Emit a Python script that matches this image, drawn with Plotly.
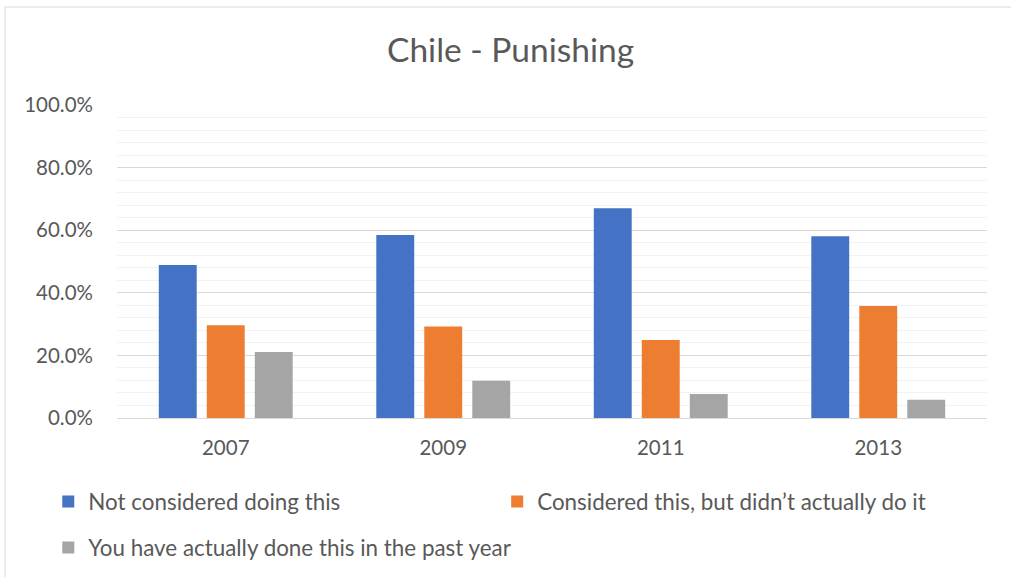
import plotly.graph_objects as go

years = ["2007", "2009", "2011", "2013"]
not_considered = [0.489, 0.585, 0.670, 0.581]
considered_not_done = [0.296, 0.292, 0.249, 0.358]
done_past_year = [0.211, 0.119, 0.077, 0.058]

series_names = [
    "Not considered doing this",
    "Considered this, but didn\u2019t actually do it",
    "You have actually done this in the past year",
]
series_colors = ["#4472C4", "#ED7D31", "#A5A5A5"]
series_values = [not_considered, considered_not_done, done_past_year]
legend_ids = ["legend", "legend2", "legend3"]

FONT = "Lato"
TEXT = "#595959"

fig = go.Figure()
for name, color, vals, lg in zip(series_names, series_colors, series_values, legend_ids):
    fig.add_trace(go.Bar(
        x=years, y=vals, name=name, legend=lg, showlegend=True,
        marker=dict(color=color, line=dict(width=0)),
        hovertemplate="%{x}: %{y:.1%}<extra>" + name + "</extra>",
    ))

legend_common = dict(
    font=dict(family=FONT, size=22.4, color=TEXT),
    bgcolor="rgba(0,0,0,0)", borderwidth=0,
    xanchor="left", yanchor="middle",
    itemclick=False, itemdoubleclick=False, visible=True,
)

fig.update_layout(
    width=1011, height=577,
    margin=dict(l=117, r=24, t=105, b=159, autoexpand=False),
    paper_bgcolor="white", plot_bgcolor="white",
    showlegend=True,
    barmode="group", bargap=0.338, bargroupgap=0.21,
    title=dict(text="Chile - Punishing", x=0.505, xanchor="center",
               y=1 - 50 / 577, yanchor="middle",
               font=dict(family=FONT, size=33.5, color=TEXT)),
    font=dict(family=FONT, color=TEXT),
    legend=dict(x=-0.079, y=-0.268, **legend_common),
    legend2=dict(x=0.437, y=-0.268, **legend_common),
    legend3=dict(x=-0.079, y=-0.415, **legend_common),
    xaxis=dict(
        type="category", showgrid=False, zeroline=False,
        showline=True, linecolor="#D9D9D9", linewidth=1,
        ticks="", ticklabelstandoff=11,
        tickfont=dict(family=FONT, size=20.5, color=TEXT),
    ),
    yaxis=dict(
        range=[0, 1.0], dtick=0.2, tickformat=".1%",
        showgrid=True, gridcolor="#D9D9D9", gridwidth=1,
        minor=dict(dtick=0.04, showgrid=True, gridcolor="#F2F2F2", gridwidth=1),
        zeroline=False, showline=False, ticks="",
        ticklabelstandoff=23,
        tickfont=dict(family=FONT, size=20.5, color=TEXT),
    ),
    shapes=[dict(type="rect", xref="paper", yref="paper",
                 x0=-0.1287, x1=1.04, y0=-0.53, y1=1.313,
                 line=dict(color="#D9D9D9", width=1), layer="below")],
)

fig.write_html("out.html")
